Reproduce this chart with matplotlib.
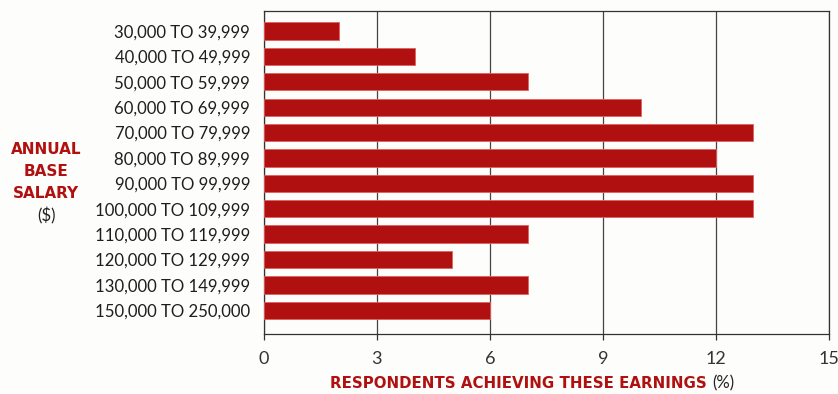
import matplotlib
matplotlib.use("Agg")
import matplotlib.pyplot as plt

categories = ["30,000 TO 39,999", "40,000 TO 49,999", "50,000 TO 59,999",
              "60,000 TO 69,999", "70,000 TO 79,999", "80,000 TO 89,999",
              "90,000 TO 99,999", "100,000 TO 109,999", "110,000 TO 119,999",
              "120,000 TO 129,999", "130,000 TO 149,999", "150,000 TO 250,000"]
values = [2, 4, 7, 10, 13, 12, 13, 13, 7, 5, 7, 6]
xticks = [0, 3, 6, 9, 12, 15]

W, H = 838, 394
RED = "#b0100f"
fig = plt.figure(figsize=(W / 100, H / 100), dpi=100)
fig.patch.set_facecolor("#fdfdfb")
ax = fig.add_axes([0.315, 0.152, 0.674, 0.820])
ax.set_facecolor("#fdfdfb")

y = list(range(len(categories)))
ax.set_axisbelow(True)
ax.grid(axis="x", color="#444444", linewidth=0.9)
ax.barh(y, values, height=0.68, color=RED, edgecolor="#e06060", linewidth=0.6, zorder=3)
ax.set_xlim(0, 15)
ax.set_ylim(len(categories) - 1 + 0.94, -0.79)
ax.set_xticks(xticks)
ax.set_xticklabels([str(t) for t in xticks], fontsize=13, family="Lato", color="#333333")
ax.set_yticks(y)
ax.set_yticklabels(categories, fontsize=12.1, family="Lato", color="#1e1e1e")
ax.tick_params(axis="y", length=0, pad=10)
ax.tick_params(axis="x", length=4, width=0.9, color="#333333", pad=8)
for s in ax.spines.values():
    s.set_color("#333333")
    s.set_linewidth(0.9)

def px(x, yy):
    return x / W, 1 - yy / H

for label, yy in [("ANNUAL", 150), ("BASE", 172), ("SALARY", 194)]:
    fig.text(*px(46, yy), label, ha="center", va="center", fontsize=11,
             fontweight="bold", family="DejaVu Sans", color=RED)
fig.text(*px(46, 216), "($)", ha="center", va="center", fontsize=12.1, family="Lato", color="#222222")

fig.text(*px(330, 388), "RESPONDENTS ACHIEVING THESE EARNINGS", ha="left", va="baseline",
         fontsize=10.8, fontweight="bold", family="DejaVu Sans", color=RED)
fig.text(*px(712, 388), "(%)", ha="left", va="baseline", fontsize=12.1, family="Lato", color="#222222")

fig.savefig("out.png", dpi=100, facecolor=fig.get_facecolor())
